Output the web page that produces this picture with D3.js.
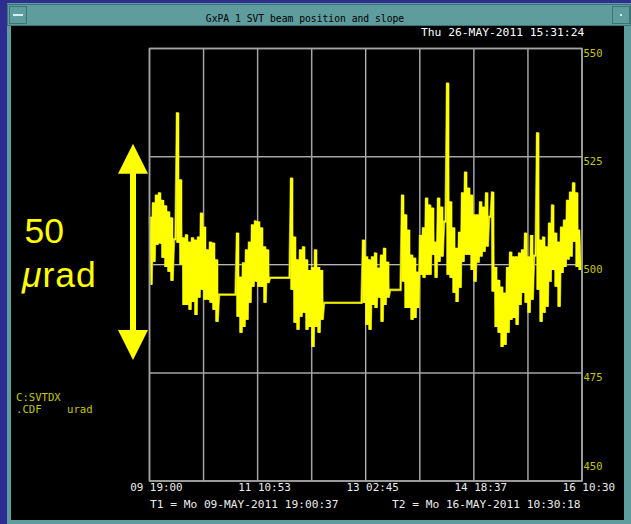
<!DOCTYPE html>
<html>
<head>
<meta charset="utf-8">
<script src="https://cdn.jsdelivr.net/npm/d3@7"></script>
<style>
  html, body { margin: 0; padding: 0; background: #2e2e92; }
  svg { display: block; }
  .mono { font-family: "DejaVu Sans Mono", monospace; white-space: pre; }
</style>
</head>
<body>
<svg id="chart" width="631" height="524"></svg>
<script>
// --- texts
const title = "GxPA 1 SVT beam position and slope";
const stamp = "Thu 26-MAY-2011 15:31:24";
const t1Label = "T1 = Mo 09-MAY-2011 19:00:37";
const t2Label = "T2 = Mo 16-MAY-2011 10:30:18";
const channel = ["C:SVTDX", ".CDF    urad"];

// --- axes
const yTicks = [450, 475, 500, 525, 550];
const xTickLabels = ["09 19:00", "11 10:53", "13 02:45", "14 18:37", "16 10:30"];
const t1 = new Date(2011, 4, 9, 19, 0, 37);
const t2 = new Date(2011, 4, 16, 10, 30, 18);

// --- SVTDX (urad), envelope per sample: high and low of the noisy trace
const firstSampleMin = 11;
const sampleStepMin = 66.4;
const hi = [
  511.1, 514.4, 516.2, 516.7, 515.0, 513.7, 512.3, 510.9, 505.9, 535.2,
  519.7, 506.3, 507.0, 505.3, 506.3, 505.8, 506.5, 512.0, 508.8, 503.5,
  505.3, 505.1, 501.2, 493.1, 493.1, 493.1, 493.1, 493.1, 493.1, 507.4,
  497.2, 500.5, 503.5, 505.3, 509.3, 510.2, 510.0, 508.6, 504.2, 503.5,
  497.0, 497.0, 497.0, 497.0, 497.0, 497.0, 497.0, 520.1, 506.5, 501.2,
  503.5, 504.2, 501.2, 498.8, 499.5, 503.5, 499.5, 498.8, 491.2, 491.2,
  491.2, 491.2, 491.2, 491.2, 491.2, 491.2, 491.2, 491.2, 491.2, 491.2,
  491.2, 505.8, 501.9, 501.2, 501.9, 502.8, 499.3, 502.3, 503.9, 500.7,
  494.2, 494.2, 494.2, 494.2, 516.2, 511.6, 508.1, 502.3, 501.6, 498.4,
  506.9, 508.6, 515.5, 513.9, 513.2, 505.3, 515.5, 513.4, 510.0, 542.1,
  514.6, 508.6, 503.9, 507.6, 516.7, 521.5, 517.8, 516.2, 511.6, 511.6,
  514.6, 513.4, 516.7, 511.1, 516.9, 499.5, 496.5, 494.9, 493.5, 499.5,
  503.0, 501.9, 501.9, 502.8, 503.5, 507.4, 501.9, 506.9, 502.1, 530.6,
  505.8, 506.5, 504.2, 509.7, 513.9, 507.4, 505.3, 508.8, 510.4, 515.0,
  516.9, 519.0, 516.7, 508.1
];
const lo = [
  495.4, 500.7, 504.6, 504.9, 501.6, 499.5, 498.4, 496.3, 505.9, 505.1,
  500.0, 490.7, 490.7, 489.6, 491.4, 488.4, 492.4, 494.2, 491.9, 491.9,
  491.2, 489.6, 486.8, 493.1, 493.1, 493.1, 493.1, 493.1, 493.1, 488.0,
  484.3, 485.6, 487.3, 491.2, 494.9, 496.1, 494.9, 494.9, 491.2, 495.8,
  497.0, 497.0, 497.0, 497.0, 497.0, 497.0, 497.0, 494.2, 486.6, 485.0,
  488.0, 488.9, 485.0, 485.6, 481.0, 485.6, 484.3, 487.3, 491.2, 491.2,
  491.2, 491.2, 491.2, 491.2, 491.2, 491.2, 491.2, 491.2, 491.2, 491.2,
  491.2, 491.2, 486.1, 485.0, 490.7, 490.0, 492.4, 486.8, 490.7, 492.4,
  494.2, 494.2, 494.2, 494.2, 496.1, 490.0, 490.0, 487.3, 487.7, 490.0,
  497.7, 497.0, 497.7, 497.7, 502.3, 497.0, 500.7, 501.9, 510.0, 497.7,
  497.0, 493.5, 491.4, 494.7, 500.7, 502.3, 502.3, 498.8, 496.1, 500.5,
  501.9, 503.0, 504.2, 511.1, 493.8, 485.6, 484.3, 481.0, 481.5, 484.3,
  487.3, 487.7, 486.1, 490.7, 493.5, 491.2, 488.9, 491.9, 502.1, 494.2,
  486.8, 488.9, 490.3, 496.1, 498.8, 494.9, 490.3, 498.1, 499.5, 501.2,
  501.9, 505.3, 499.5, 498.8
];

const svg = d3.select("#chart");
const W = 631, H = 524;
const plot = { left: 149.5, right: 582, top: 48.5, bottom: 481 };

// window frame
svg.append("rect").attr("width", W).attr("height", H).attr("fill", "#2e2e92");
svg.append("rect").attr("x", 7).attr("y", 3).attr("width", W - 7).attr("height", H - 3).attr("fill", "#5e9c9e");
svg.append("rect").attr("x", 11).attr("y", 26).attr("width", 613).attr("height", 494).attr("fill", "#000");
// title bar
svg.append("rect").attr("x", 7.5).attr("y", 4.5).attr("width", W - 8).attr("height", 21)
  .attr("fill", "none").attr("stroke", "#3c7375");
svg.append("rect").attr("x", 9.5).attr("y", 6.5).attr("width", 17).attr("height", 17)
  .attr("fill", "none").attr("stroke", "#3c7375");
svg.append("rect").attr("x", 13).attr("y", 14).attr("width", 10).attr("height", 2).attr("fill", "#d8eeee");
svg.append("rect").attr("x", 612.5).attr("y", 6.5).attr("width", 17).attr("height", 17)
  .attr("fill", "none").attr("stroke", "#3c7375");
svg.append("rect").attr("x", 620).attr("y", 14).attr("width", 2).attr("height", 2).attr("fill", "#d8eeee");
svg.append("text").attr("class", "mono").attr("x", 305).attr("y", 22)
  .attr("text-anchor", "middle").attr("font-size", 9.7).attr("fill", "#000").text(title);

svg.append("text").attr("class", "mono").attr("x", 421).attr("y", 35.5)
  .attr("font-size", 11.3).attr("fill", "#fff").text(stamp);

// scales
const x = d3.scaleTime().domain([t1, t2]).range([plot.left, plot.right]);
const y = d3.scaleLinear().domain([yTicks[0], yTicks[yTicks.length - 1]]).range([plot.bottom, plot.top]);
const span = t2 - t1;
const gridTimes = d3.range(9).map(k => new Date(+t1 + k * span / 8));
const labelTimes = d3.range(5).map(k => new Date(+t1 + k * span / 4));

// grid
svg.append("g").selectAll("line").data(gridTimes).join("line")
  .attr("x1", d => x(d)).attr("x2", d => x(d))
  .attr("y1", plot.top).attr("y2", plot.bottom)
  .attr("stroke", (d, i) => i === 4 ? "#f4f4f4" : "#a4a4a4")
  .attr("stroke-width", (d, i) => i === 4 ? 1 : 1.5);
svg.append("g").selectAll("line").data(yTicks).join("line")
  .attr("x1", plot.left).attr("x2", plot.right)
  .attr("y1", d => y(d)).attr("y2", d => y(d))
  .attr("stroke", d => d === 500 ? "#f4f4f4" : "#a4a4a4")
  .attr("stroke-width", d => d === 500 ? 1 : 1.5);

// trace: filled envelope plus zigzag through high and low of every sample
const samples = hi.map((h, i) => ({
  t: +t1 + (firstSampleMin + i * sampleStepMin) * 60000,
  hi: h,
  lo: lo[i]
}));
const pts = [];
samples.forEach(s => {
  pts.push([s.t, s.hi]);
  pts.push([s.t + sampleStepMin * 30000, s.lo]);
});
const line = d3.line().x(d => x(new Date(d[0]))).y(d => y(d[1]));
const area = d3.area()
  .x(s => x(new Date(s.t + sampleStepMin * 15000)))
  .y0(s => y(s.lo)).y1(s => y(s.hi))
  .curve(d3.curveStep);

svg.append("path").datum(pts).attr("d", line)
  .attr("fill", "none").attr("stroke", "#9a9a00").attr("stroke-width", 2.6);
svg.append("path").datum(samples).attr("d", area).attr("fill", "#ffff00");
svg.append("path").datum(pts).attr("d", line)
  .attr("fill", "none").attr("stroke", "#ffff00").attr("stroke-width", 1.3);

// right axis
const yAxis = svg.append("g").attr("transform", `translate(${plot.right},0)`)
  .call(d3.axisRight(y).tickValues(yTicks).tickSize(0).tickPadding(1.5).tickFormat(d3.format("d")));
yAxis.select(".domain").remove();
yAxis.selectAll("text").attr("class", "mono").attr("font-size", 10.5).attr("fill", "#c8c800")
  .attr("dy", d => d === yTicks[0] ? -12 : 8);

// bottom axis
const xAxis = svg.append("g").attr("transform", `translate(0,${plot.bottom})`)
  .call(d3.axisBottom(x).tickValues(labelTimes).tickSize(0).tickFormat((d, i) => xTickLabels[i]));
xAxis.select(".domain").remove();
xAxis.selectAll("text").attr("class", "mono").attr("font-size", 10.9).attr("fill", "#ececec")
  .attr("y", 10).attr("dy", 0).attr("dx", 6.4);

// border
svg.append("rect").attr("x", plot.left).attr("y", plot.top)
  .attr("width", plot.right - plot.left).attr("height", plot.bottom - plot.top)
  .attr("fill", "none").attr("stroke", "#a4a4a4").attr("stroke-width", 1.5);

svg.append("text").attr("class", "mono").attr("x", 150).attr("y", 507.5)
  .attr("font-size", 11.2).attr("fill", "#ececec").text(t1Label);
svg.append("text").attr("class", "mono").attr("x", 392).attr("y", 507.5)
  .attr("font-size", 11.2).attr("fill", "#ececec").text(t2Label);

svg.append("g").selectAll("text").data(channel).join("text").attr("class", "mono")
  .attr("x", 16).attr("y", (d, i) => 401 + i * 12)
  .attr("font-size", 10.6).attr("fill", "#c8c800").text(d => d);

// 50 urad scale arrow, from 478 to 528
const ax = 133, tipTop = y(528), tipBot = y(478), head = 30, hw = 15, sw = 3;
const arrow = d3.path();
arrow.moveTo(ax, tipTop);
arrow.lineTo(ax + hw, tipTop + head);
arrow.lineTo(ax + sw, tipTop + head);
arrow.lineTo(ax + sw, tipBot - head);
arrow.lineTo(ax + hw, tipBot - head);
arrow.lineTo(ax, tipBot);
arrow.lineTo(ax - hw, tipBot - head);
arrow.lineTo(ax - sw, tipBot - head);
arrow.lineTo(ax - sw, tipTop + head);
arrow.lineTo(ax - hw, tipTop + head);
arrow.closePath();
svg.append("path").attr("d", arrow.toString()).attr("fill", "#ffff00");

const big = svg.append("g").attr("font-family", "'Liberation Sans', Arial, sans-serif")
  .attr("font-size", 35.5).attr("fill", "#ffff00");
big.append("text").attr("x", 24.5).attr("y", 243).text("50");
const u = big.append("text").attr("x", 22).attr("y", 287).attr("letter-spacing", 1);
u.append("tspan").attr("font-style", "italic").text("\u03bc");
u.append("tspan").text("rad");
</script>
</body>
</html>
